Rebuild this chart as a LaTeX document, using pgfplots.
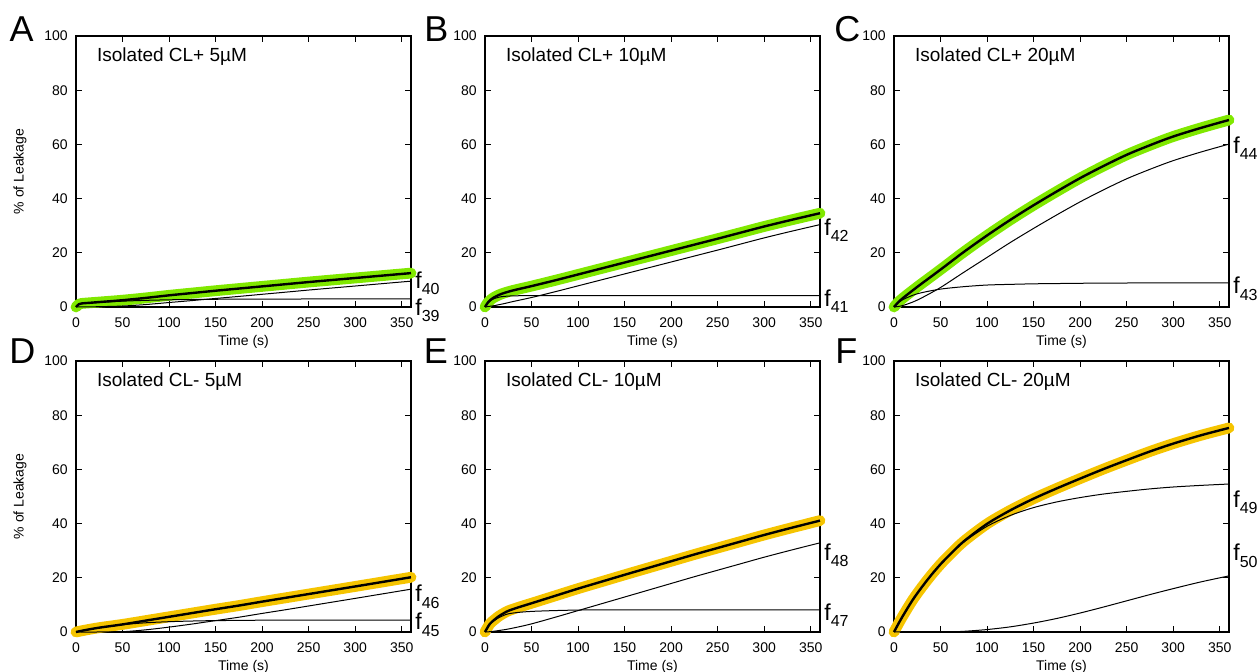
\documentclass[border=0pt]{standalone}
\usepackage{fontspec}
\setmainfont{Liberation Sans}
\usepackage{pgfplots}
\pgfplotsset{compat=1.18}
\definecolor{lime}{RGB}{128,232,0}
\definecolor{gold}{RGB}{245,196,0}
\newcommand{\fl}[1]{f\raisebox{-3.3pt}{\fontsize{8}{8}\selectfont #1}}
\pgfplotsset{
  panel/.style={
    scale only axis, width=167.5pt, height=135.5pt,
    xmin=0, xmax=360, ymin=0, ymax=100,
    xtick={0,50,...,350}, ytick={0,20,...,100},
    tick align=inside, major tick length=2.8pt,
    every tick/.style={black, line width=0.5pt},
    axis line style={line width=1.1pt},
    tick label style={font=\fontsize{7}{8}\selectfont},
    /pgf/number format/assume math mode=true,
    xticklabel style={yshift=-2pt}, yticklabel style={xshift=-0.6pt},
    xlabel={Time (s)},
    xlabel style={at={(rel axis cs:0.5,-0.129)}, anchor=center, font=\fontsize{7}{8}\selectfont},
    clip=false, anchor=south west,
  },
  ylab/.style={ylabel={\% of Leakage},
    ylabel style={at={(rel axis cs:-0.167,0.5)}, anchor=center, font=\fontsize{7}{8}\selectfont}},
  band/.style={line width=5.4pt, line cap=round, line join=round, smooth},
  fitl/.style={black, line width=1.2pt, smooth},
  comp/.style={black, line width=0.5pt, smooth},
}
\newcommand{\ttl}[1]{\node[anchor=base west, font=\fontsize{9.5}{10}\selectfont] at (rel axis cs:0.042,0.905) {#1};}
\newcommand{\letter}[3]{\node[anchor=base west, inner sep=0pt, font=\fontsize{18}{18}\selectfont] at (rel axis cs:#1,#2) {#3};}
\newcommand{\flab}[2]{\node[anchor=base west, inner sep=0pt, xshift=2pt, font=\fontsize{11.5}{12}\selectfont] at (axis cs:360,#1) {\fl{#2}};}
\begin{document}
\begin{tikzpicture}
% A
\begin{axis}[panel, ylab, at={(38pt,182.5pt)}]
\addplot[band, lime] coordinates {(0,0)(3,1.0)(6,1.3)(15,1.55)(30,1.95)(50,2.5)(75,3.35)(100,4.3)(125,5.15)(150,6.0)(175,6.8)(200,7.6)(225,8.4)(250,9.2)(275,9.95)(300,10.7)(330,11.6)(360,12.5)};
\addplot[comp] coordinates {(0,0)(3,1.0)(6,1.3)(15,1.5)(30,1.8)(50,2.15)(75,2.45)(100,2.65)(125,2.77)(150,2.85)(200,2.92)(250,2.95)(360,2.97)};
\addplot[comp] coordinates {(0,0)(15,0.05)(30,0.15)(50,0.35)(75,0.9)(100,1.65)(125,2.38)(150,3.15)(175,3.9)(200,4.68)(225,5.46)(250,6.25)(275,7.0)(300,7.74)(330,8.64)(360,9.53)};
\addplot[fitl] coordinates {(0,0)(3,1.0)(6,1.3)(15,1.55)(30,1.95)(50,2.5)(75,3.35)(100,4.3)(125,5.15)(150,6.0)(175,6.8)(200,7.6)(225,8.4)(250,9.2)(275,9.95)(300,10.7)(330,11.6)(360,12.5)};
\ttl{Isolated CL+ 5µM}
\letter{-0.199}{0.979}{A}
\flab{7.0}{40}
\flab{-3.1}{39}
\end{axis}
% B
\begin{axis}[panel, at={(242.5pt,182.5pt)}]
\addplot[band, lime] coordinates {(0,0)(3,1.6)(6,2.65)(10,3.6)(15,4.45)(20,5.1)(30,6.1)(50,7.7)(75,9.8)(100,12.0)(125,14.2)(150,16.4)(175,18.6)(200,20.8)(225,23.0)(250,25.2)(275,27.45)(300,29.7)(330,32.2)(360,34.6)};
\addplot[comp] coordinates {(0,0)(3,1.5)(6,2.4)(10,3.1)(15,3.6)(20,3.9)(30,4.1)(50,4.2)(100,4.2)(360,4.2)};
\addplot[comp] coordinates {(0,0)(10,0.5)(15,0.85)(20,1.2)(30,2.0)(50,3.5)(75,5.6)(100,7.8)(125,10.0)(150,12.2)(175,14.4)(200,16.6)(225,18.8)(250,21.0)(275,23.25)(300,25.5)(330,28.0)(360,30.4)};
\addplot[fitl] coordinates {(0,0)(3,1.6)(6,2.65)(10,3.6)(15,4.45)(20,5.1)(30,6.1)(50,7.7)(75,9.8)(100,12.0)(125,14.2)(150,16.4)(175,18.6)(200,20.8)(225,23.0)(250,25.2)(275,27.45)(300,29.7)(330,32.2)(360,34.6)};
\ttl{Isolated CL+ 10µM}
\letter{-0.182}{0.979}{B}
\flab{26.5}{42}
\flab{0.3}{41}
\end{axis}
% C
\begin{axis}[panel, at={(447pt,182.5pt)}]
\addplot[band, lime] coordinates {(0,0)(5,1.9)(10,3.4)(20,6.1)(30,8.7)(50,13.8)(75,20.3)(100,26.4)(125,32.15)(150,37.55)(175,42.65)(200,47.55)(225,52.0)(250,56.15)(275,59.68)(300,62.9)(330,66.1)(360,69.0)};
\addplot[comp] coordinates {(0,0)(5,1.7)(10,2.8)(20,4.3)(30,5.3)(50,6.6)(75,7.5)(100,8.1)(125,8.35)(150,8.55)(175,8.65)(200,8.75)(250,8.85)(300,8.9)(360,8.9)};
\addplot[comp] coordinates {(0,0)(5,0.2)(10,0.6)(20,1.8)(30,3.4)(50,7.2)(75,12.8)(100,18.3)(125,23.8)(150,29.0)(175,34.0)(200,38.8)(225,43.2)(250,47.3)(275,50.8)(300,54.0)(330,57.2)(360,60.1)};
\addplot[fitl] coordinates {(0,0)(5,1.9)(10,3.4)(20,6.1)(30,8.7)(50,13.8)(75,20.3)(100,26.4)(125,32.15)(150,37.55)(175,42.65)(200,47.55)(225,52.0)(250,56.15)(275,59.68)(300,62.9)(330,66.1)(360,69.0)};
\ttl{Isolated CL+ 20µM}
\letter{-0.179}{0.979}{C}
\flab{56.7}{44}
\flab{4.9}{43}
\end{axis}
% D
\begin{axis}[panel, ylab, at={(38pt,20pt)}]
\addplot[band, gold] coordinates {(0,0)(10,0.7)(25,1.6)(50,2.8)(75,4.2)(100,5.6)(125,7.0)(150,8.4)(175,9.75)(200,11.2)(225,12.6)(250,14.0)(275,15.4)(300,16.8)(330,18.5)(360,20.2)};
\addplot[comp] coordinates {(0,0)(10,0.7)(25,1.6)(50,2.7)(75,3.4)(100,3.8)(125,4.05)(150,4.2)(200,4.35)(250,4.4)(360,4.4)};
\addplot[comp] coordinates {(0,0)(25,0)(50,0.1)(75,0.8)(100,1.8)(125,2.95)(150,4.2)(175,5.45)(200,6.85)(225,8.2)(250,9.6)(275,11.0)(300,12.4)(330,14.1)(360,15.8)};
\addplot[fitl] coordinates {(0,0)(10,0.7)(25,1.6)(50,2.8)(75,4.2)(100,5.6)(125,7.0)(150,8.4)(175,9.75)(200,11.2)(225,12.6)(250,14.0)(275,15.4)(300,16.8)(330,18.5)(360,20.2)};
\ttl{Isolated CL- 5µM}
\letter{-0.2}{0.989}{D}
\flab{11.2}{46}
\flab{0.8}{45}
\end{axis}
% E
\begin{axis}[panel, at={(242.5pt,20pt)}]
\addplot[band, gold] coordinates {(0,0)(5,2.9)(10,4.5)(15,5.85)(20,6.9)(25,7.8)(35,9.0)(50,10.6)(75,13.3)(100,16.0)(125,18.55)(150,21.1)(175,23.6)(200,26.1)(225,28.6)(250,31.0)(275,33.4)(300,35.8)(330,38.5)(360,41.1)};
\addplot[comp] coordinates {(0,0)(5,2.8)(10,4.2)(15,5.3)(20,6.1)(25,6.7)(35,7.2)(50,7.6)(75,7.9)(100,8.1)(125,8.15)(150,8.2)(360,8.2)};
\addplot[comp] coordinates {(0,0)(5,0.1)(10,0.3)(15,0.55)(20,0.8)(25,1.1)(35,1.8)(50,3.0)(75,5.4)(100,7.9)(125,10.4)(150,12.9)(175,15.4)(200,17.9)(225,20.4)(250,22.8)(275,25.2)(300,27.6)(330,30.3)(360,32.9)};
\addplot[fitl] coordinates {(0,0)(5,2.9)(10,4.5)(15,5.85)(20,6.9)(25,7.8)(35,9.0)(50,10.6)(75,13.3)(100,16.0)(125,18.55)(150,21.1)(175,23.6)(200,26.1)(225,28.6)(250,31.0)(275,33.4)(300,35.8)(330,38.5)(360,41.1)};
\ttl{Isolated CL- 10µM}
\letter{-0.184}{0.989}{E}
\flab{26.5}{48}
\flab{4.3}{47}
\end{axis}
% F
\begin{axis}[panel, at={(447pt,20pt)}]
\addplot[band, gold] coordinates {(0,0)(5,3.2)(10,6.2)(20,11.8)(30,16.6)(40,21.0)(50,25.0)(60,28.55)(75,33.45)(100,39.9)(125,44.9)(150,49.2)(175,53.0)(200,56.6)(225,60.1)(250,63.4)(275,66.6)(300,69.5)(330,72.6)(360,75.3)};
\addplot[comp] coordinates {(0,0)(5,3.2)(10,6.2)(20,11.8)(30,16.6)(40,21.0)(50,25.0)(60,28.5)(75,33.2)(100,39.0)(125,43.0)(150,45.9)(175,48.0)(200,49.6)(225,50.9)(250,51.9)(275,52.8)(300,53.5)(330,54.1)(360,54.6)};
\addplot[comp] coordinates {(0,0)(50,0)(60,0.05)(75,0.25)(100,0.9)(125,1.9)(150,3.3)(175,5.0)(200,7.0)(225,9.2)(250,11.5)(275,13.8)(300,16.0)(330,18.5)(360,20.7)};
\addplot[fitl] coordinates {(0,0)(5,3.2)(10,6.2)(20,11.8)(30,16.6)(40,21.0)(50,25.0)(60,28.55)(75,33.45)(100,39.9)(125,44.9)(150,49.2)(175,53.0)(200,56.6)(225,60.1)(250,63.4)(275,66.6)(300,69.5)(330,72.6)(360,75.3)};
\ttl{Isolated CL- 20µM}
\letter{-0.176}{0.989}{F}
\flab{46}{49}
\flab{26.3}{50}
\end{axis}
\pgfresetboundingbox
\path[use as bounding box] (0,0) rectangle (629pt,336pt);
\end{tikzpicture}
\end{document}
